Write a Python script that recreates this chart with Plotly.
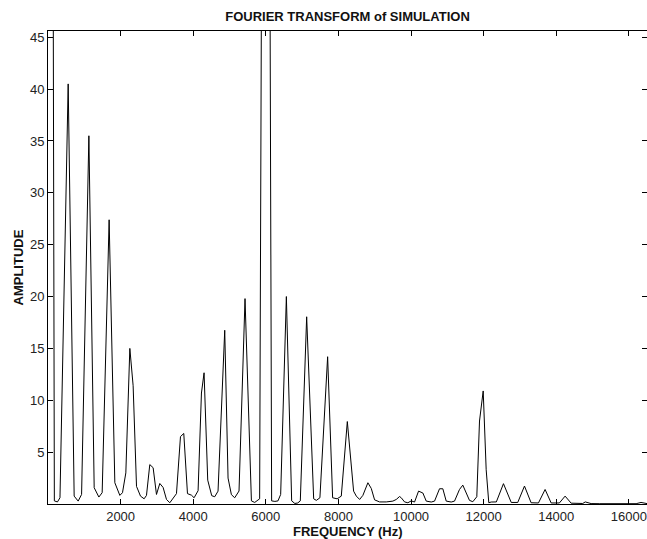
import plotly.graph_objects as go

# Vertices of the spectrum
freq_hz = [0, 80, 175, 260, 330, 556, 721, 831, 925, 1126, 1272, 1401, 1492, 1684,
           1841, 1979, 2052, 2144, 2254, 2345, 2438, 2548, 2648, 2713, 2804, 2896,
           2988, 3080, 3170, 3264, 3355, 3446, 3539, 3649, 3740, 3842, 3952, 4024,
           4134, 4227, 4299, 4400, 4510, 4593, 4684, 4868, 4960, 5052, 5143, 5262,
           5427, 5603, 5694, 5830, 5930, 6000, 6070, 6160, 6250, 6335, 6409, 6566,
           6712, 6800, 6880, 6950, 7125, 7318, 7392, 7490, 7703, 7840, 7965, 8079,
           8245, 8418, 8493, 8584, 8674, 8812, 8905, 8996, 9134, 9318, 9409, 9500,
           9594, 9684, 9731, 9822, 9913, 10006, 10097, 10207, 10326, 10419, 10557,
           10648, 10785, 10876, 10969, 11107, 11198, 11335, 11426, 11520, 11610,
           11702, 11812, 11886, 11988, 12070, 12142, 12208, 12350, 12546, 12760,
           12940, 13125, 13308, 13510, 13693, 13860, 14087, 14244, 14410, 14730,
           14800, 14960, 15200, 15600, 16000, 16200, 16335, 16450, 16500]

amplitude = [150, 150, 0.3, 0.2, 0.6, 40.5, 0.76, 0.28, 0.92, 35.5, 1.57, 0.67, 1.09, 27.4,
             2.05, 0.83, 1.09, 3.0, 15.0, 11.4, 1.7, 0.76, 0.5, 0.83, 3.8, 3.5,
             0.92, 1.98, 1.6, 0.44, 0.12, 0.6, 1.0, 6.5, 6.8, 1.0, 0.85, 0.6,
             1.28, 10.7, 12.65, 2.3, 0.8, 0.7, 1.24, 16.75, 2.5, 0.9, 0.6, 1.25,
             19.8, 0.3, 0.15, 0.5, 100, 140, 100, 0.3, 0.25, 0.3, 0.92, 20.0,
             0.3, 0.05, 0.1, 0.3, 18.05, 0.5, 0.35, 0.6, 14.2, 0.6, 0.5, 0.76,
             7.95, 1.24, 0.76, 0.44, 0.83, 2.05, 1.5, 0.4, 0.2, 0.2, 0.22, 0.28,
             0.44, 0.72, 0.6, 0.2, 0.12, 0.3, 0.19, 1.24, 1.06, 0.28, 0.19,
             0.28, 1.47, 1.47, 0.28, 0.19, 0.28, 1.4, 1.82, 1.09, 0.35,
             0.22, 0.7, 8.0, 10.9, 3.3, 0.12, 0.19, 0.2, 1.96, 0.15,
             0.15, 1.73, 0.12, 0.1, 1.4, 0.1, 0.1, 0.76, 0.08, 0.05,
             0.2, 0.04, 0.03, 0.03, 0.03, 0.03, 0.15, 0.04, 0.04]

x_ticks = [2000, 4000, 6000, 8000, 10000, 12000, 14000, 16000]
x_tick_labels = ["2000", "4000", "6000", "8000", "10000", "12000", "14000", "16000"]
y_ticks = [5, 10, 15, 20, 25, 30, 35, 40, 45]
y_tick_labels = ["5", "10", "15", "20", "25", "30", "35", "40", "45"]

X_RANGE = [0, 16500]
Y_RANGE = [0, 45.6]
FONT = "Liberation Sans, Arial, Helvetica, sans-serif"
TICKFONT = dict(family=FONT, size=13, color="#222222")

fig = go.Figure()
fig.add_trace(go.Scatter(x=freq_hz, y=amplitude, mode="lines",
                         line=dict(color="black", width=1), showlegend=False,
                         hoverinfo="skip"))
# invisible helper so the right-hand tick axis is drawn
fig.add_trace(go.Scatter(x=[freq_hz[0]], y=[amplitude[-1]], yaxis="y2", mode="markers",
                         marker=dict(opacity=0), showlegend=False, hoverinfo="skip"))

fig.update_layout(
    width=647, height=539,
    margin=dict(l=48, r=0, t=31, b=35),
    plot_bgcolor="white", paper_bgcolor="white",
    xaxis=dict(range=X_RANGE, tickvals=x_ticks, ticktext=x_tick_labels,
               showgrid=False, zeroline=False, showline=True, linecolor="black",
               linewidth=1, ticks="inside", ticklen=5, tickwidth=1, tickcolor="black",
               mirror="ticks", tickfont=TICKFONT),
    yaxis=dict(range=Y_RANGE, tickvals=y_ticks, ticktext=y_tick_labels,
               showgrid=False, zeroline=False, showline=True, linecolor="black",
               linewidth=1, ticks="inside", ticklen=5, tickwidth=1, tickcolor="black",
               tickfont=TICKFONT),
    yaxis2=dict(range=Y_RANGE, tickvals=y_ticks, overlaying="y", side="right",
                showgrid=False, zeroline=False, showline=False, showticklabels=False,
                ticks="inside", ticklen=5, tickwidth=1, tickcolor="black"),
    title=dict(text="<b>FOURIER TRANSFORM of SIMULATION</b>",
               font=dict(family=FONT, size=13, color="#111111"),
               x=0.5, xref="paper", y=1 - 16 / 539, yref="container",
               xanchor="center", yanchor="middle"),
    annotations=[
        dict(text="<b>FREQUENCY (Hz)</b>", x=0.5, y=0, xref="paper", yref="paper",
             yshift=-27.5, xanchor="center", yanchor="middle", showarrow=False,
             font=dict(family=FONT, size=13, color="#111111")),
        dict(text="<b>AMPLITUDE</b>", x=0, y=0.5, xref="paper", yref="paper",
             xshift=-30, xanchor="center", yanchor="middle", textangle=-90,
             showarrow=False, font=dict(family=FONT, size=13, color="#111111")),
    ],
)

fig.write_html("out.html")
